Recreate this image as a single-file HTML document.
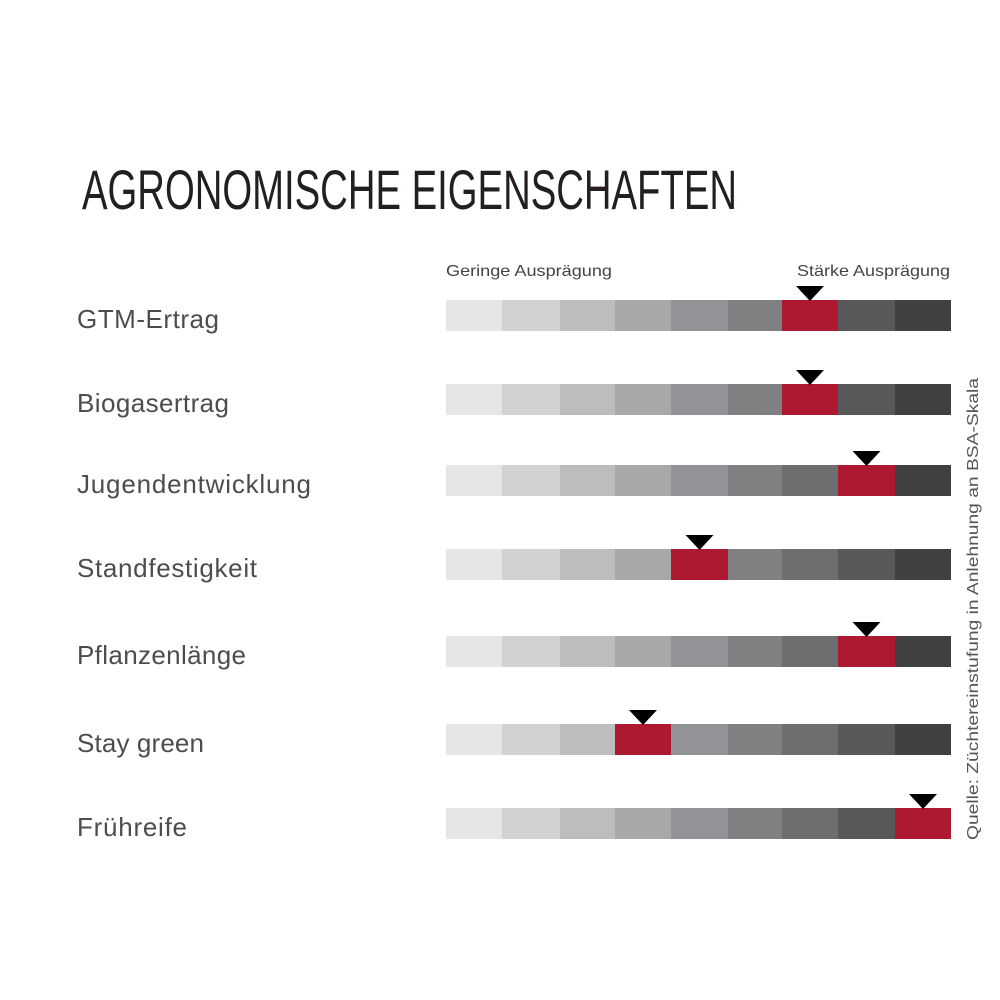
<!DOCTYPE html>
<html><head><meta charset="utf-8"><style>
html,body{margin:0;padding:0;background:#fff;}
svg{display:block;}
</style></head><body>
<svg width="1000" height="1000" viewBox="0 0 1000 1000" xmlns="http://www.w3.org/2000/svg">
<defs>
<g id="bar">
<rect x="446" y="0" width="56" height="31" fill="#e6e6e6"/>
<rect x="502" y="0" width="58" height="31" fill="#d1d2d4"/>
<rect x="560" y="0" width="55" height="31" fill="#bcbdbf"/>
<rect x="615" y="0" width="56" height="31" fill="#a7a8aa"/>
<rect x="671" y="0" width="57" height="31" fill="#929396"/>
<rect x="728" y="0" width="54" height="31" fill="#808082"/>
<rect x="782" y="0" width="56" height="31" fill="#6d6e70"/>
<rect x="838" y="0" width="57" height="31" fill="#58585a"/>
<rect x="895" y="0" width="56" height="31" fill="#404040"/>
</g>
</defs>
<rect width="1000" height="1000" fill="#fff"/>
<text x="82" y="209" font-family="Liberation Sans Narrow, Liberation Sans, sans-serif" font-size="56" fill="#231f20" textLength="655" lengthAdjust="spacingAndGlyphs">AGRONOMISCHE EIGENSCHAFTEN</text>
<g font-family="Liberation Sans, sans-serif" font-size="16" fill="#444">
<text x="446" y="276" textLength="166" lengthAdjust="spacingAndGlyphs">Geringe Ausprägung</text>
<text x="797" y="276" textLength="153" lengthAdjust="spacingAndGlyphs">Stärke Ausprägung</text>
</g>
<g font-family="Liberation Sans, sans-serif" font-size="26" fill="#4d4d4f" lengthAdjust="spacingAndGlyphs">
<text x="77" y="328" textLength="142">GTM-Ertrag</text>
<text x="77" y="412" textLength="152">Biogasertrag</text>
<text x="77" y="493" textLength="234">Jugendentwicklung</text>
<text x="77" y="577" textLength="180">Standfestigkeit</text>
<text x="77" y="664" textLength="169">Pflanzenlänge</text>
<text x="77" y="752" textLength="127">Stay green</text>
<text x="77" y="836" textLength="110">Frühreife</text>
</g>
<use href="#bar" transform="translate(0,300)"/>
<use href="#bar" transform="translate(0,384)"/>
<use href="#bar" transform="translate(0,465)"/>
<use href="#bar" transform="translate(0,549)"/>
<use href="#bar" transform="translate(0,636)"/>
<use href="#bar" transform="translate(0,724)"/>
<use href="#bar" transform="translate(0,808)"/>
<g fill="#ae1932">
<rect x="782" y="300" width="56" height="31"/>
<rect x="782" y="384" width="56" height="31"/>
<rect x="838" y="465" width="57" height="31"/>
<rect x="671" y="549" width="57" height="31"/>
<rect x="838" y="636" width="57" height="31"/>
<rect x="615" y="724" width="56" height="31"/>
<rect x="895" y="808" width="56" height="31"/>
</g>
<g fill="#000">
<polygon points="796,286 824,286 810,301"/>
<polygon points="796,370 824,370 810,385"/>
<polygon points="852.5,451 880.5,451 866.5,466"/>
<polygon points="685.5,535 713.5,535 699.5,550"/>
<polygon points="852.5,622 880.5,622 866.5,637"/>
<polygon points="629,710 657,710 643,725"/>
<polygon points="909,794 937,794 923,809"/>
</g>
<text transform="translate(978,840) rotate(-90)" font-family="Liberation Sans, sans-serif" font-size="15.5" fill="#555" textLength="462" lengthAdjust="spacingAndGlyphs">Quelle: Züchtereinstufung in Anlehnung an  BSA-Skala</text>
</svg>
</body></html>
